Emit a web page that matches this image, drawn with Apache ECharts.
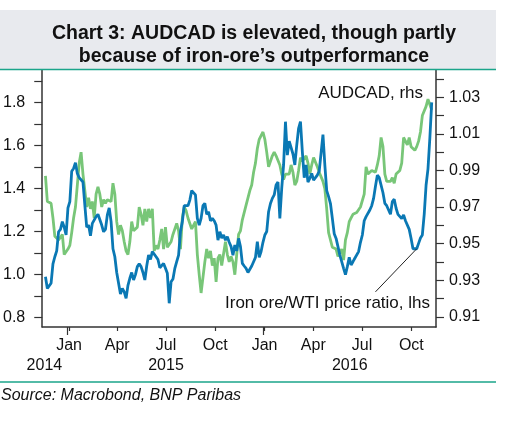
<!DOCTYPE html>
<html>
<head>
<meta charset="utf-8">
<script src="https://cdn.jsdelivr.net/npm/echarts@6/dist/echarts.min.js"></script>
<style>html,body{margin:0;padding:0;background:#fff;}#c{width:510px;height:421px;}</style>
</head>
<body>
<div id="c"></div>
<script>
// ---- data (twice-weekly observations, every 3.5 days starting 2014-11-18) ----
const startDate = '2014-11-18';
const stepDays = 3.5;
const ironOreWti = [
0.99,0.936,0.94,0.960,1.05,1.083,1.11,1.199,1.21,1.246,1.22,1.184,1.31,1.339,1.48,1.493,1.52,1.470,1.45,1.455,
1.43,1.323,1.22,1.230,1.18,1.238,1.23,1.269,1.28,1.285,1.23,1.199,1.21,1.277,1.31,1.246,1.12,1.083,1.01,0.960,
0.91,0.936,0.92,0.890,0.95,0.983,1.01,0.975,1.00,1.037,1.05,1.037,1.01,0.975,1.04,1.091,1.07,1.107,1.11,1.083,
1.07,1.032,1.04,1.052,1.03,1.006,0.867,0.967,0.98,1.029,1.06,1.091,1.20,1.246,1.32,1.323,1.32,1.346,1.39,1.393,
1.37,1.261,1.23,1.261,1.32,1.331,1.28,1.292,1.25,1.261,1.25,1.230,1.16,1.199,1.17,1.184,1.16,1.176,1.15,1.130,
1.09,1.137,1.11,1.168,1.13,1.052,1.04,1.029,1.01,1.014,1.04,1.060,1.08,1.153,1.08,1.107,1.15,1.184,1.20,1.292,
1.33,1.354,1.37,1.416,1.43,1.261,1.40,1.509,1.71,1.555,1.62,1.625,1.56,1.509,1.60,1.679,1.71,1.571,1.45,1.509,
1.43,1.447,1.47,1.439,1.45,1.462,1.48,1.478,1.65,1.509,1.39,1.362,1.33,1.261,1.19,1.168,1.13,1.091,1.06,1.029,
1.00,1.037,1.08,1.045,1.06,1.076,1.07,1.107,1.15,1.184,1.25,1.269,1.26,1.300,1.32,1.354,1.41,1.462,1.45,1.455,
1.38,1.331,1.32,1.300,1.28,1.339,1.35,1.308,1.28,1.277,1.26,1.277,1.25,1.246,1.21,1.168,1.12,1.114,1.12,1.145,
1.17,1.184,1.28,1.416,1.49,1.633,1.80];
const audcad = [
0.987,0.973,0.974,0.972,0.964,0.954,0.953,0.952,0.953,0.955,0.944,0.943,0.947,0.949,0.956,0.964,0.970,0.982,0.994,1.000,
0.988,0.989,0.970,0.975,0.969,0.973,0.964,0.977,0.981,0.977,0.970,0.974,0.972,0.974,0.975,0.973,0.983,0.977,0.962,0.955,
0.960,0.957,0.951,0.946,0.944,0.951,0.962,0.957,0.958,0.959,0.970,0.966,0.960,0.969,0.962,0.969,0.964,0.969,0.946,0.949,
0.947,0.952,0.958,0.947,0.959,0.948,0.949,0.951,0.955,0.955,0.961,0.957,0.947,0.964,0.970,0.968,0.964,0.965,0.958,0.957,
0.962,0.944,0.933,0.923,0.924,0.940,0.947,0.942,0.946,0.938,0.942,0.929,0.942,0.944,0.938,0.938,0.951,0.944,0.940,0.943,
0.940,0.933,0.944,0.955,0.957,0.963,0.962,0.971,0.975,0.979,0.982,0.989,0.994,1.002,1.007,1.008,1.011,1.007,1.000,0.992,
0.995,0.998,1.000,0.998,0.998,0.993,0.988,0.985,0.988,0.988,0.988,0.993,0.989,0.982,0.984,0.990,0.997,0.995,0.996,0.998,
0.994,0.988,0.993,0.997,0.996,0.992,0.989,0.990,0.984,0.980,0.969,0.956,0.952,0.948,0.947,0.947,0.943,0.945,0.947,0.941,
0.952,0.956,0.962,0.964,0.966,0.967,0.967,0.968,0.970,0.971,0.977,0.992,0.988,0.988,0.990,0.990,0.989,0.993,0.998,1.008,
1.003,0.988,0.984,0.983,0.984,0.986,0.983,0.988,0.987,0.990,0.994,1.008,1.006,1.004,1.008,1.003,1.003,1.001,1.003,1.006,
1.011,1.020,1.019,1.025,1.029,1.026,1.023];
const monthTickDates = ['2015-01-01','2015-04-01','2015-07-01','2015-10-01','2016-01-01','2016-04-01','2016-07-01','2016-10-01'];
const monthTickLabels = ['Jan','Apr','Jul\n2015','Oct','Jan','Apr','Jul','Oct'];
const yearTickDates = ['2015-01-01','2016-01-01'];
const yearLabelDates = ['2014-11-16','2016-06-08'];
const yearLabels = ['\n2014','\n2016'];
const leftLabels = [0.8,1.0,1.2,1.4,1.6,1.8];
const leftTicks = [0.8,0.9,1.0,1.1,1.2,1.3,1.4,1.5,1.6,1.7,1.8,1.9];
const rightLabels = [0.91,0.93,0.95,0.97,0.99,1.01,1.03];
const rightTicks = [0.91,0.92,0.93,0.94,0.95,0.96,0.97,0.98,0.99,1.00,1.01,1.02,1.03,1.04];
const axisRange = {xmin:'2014-11-12', xmax:'2016-11-16', lmin:0.7568, lmax:1.95, rmin:0.9044, rmax:1.0449};
const pointer = {from:['2016-07-26',0.92], to:['2016-10-11',1.12]};

const T = s => { const p = s.split('-').map(Number); return Date.UTC(p[0], p[1]-1, p[2]); };
const DAY = 86400000;
const dates = ironOreWti.map((_, i) => T(startDate) + i*stepDays*DAY);
const blueData = ironOreWti.map((v, i) => [dates[i], v]);
const greenData = audcad.map((v, i) => [dates[i], v]);

const labelMap = {};
monthTickDates.forEach((d, i) => labelMap[T(d)] = monthTickLabels[i]);
yearLabelDates.forEach((d, i) => labelMap[T(d)] = yearLabels[i]);

const FONT = "'Liberation Sans', Arial, sans-serif";
const AX = '#333';
const chart = echarts.init(document.getElementById('c'), null, {renderer:'canvas'});
const gridRect = {left:40, right:74, top:70, bottom:94};

chart.setOption({
  animation:false,
  backgroundColor:'#fff',
  title:{
    text:'Chart 3: AUDCAD is elevated, though partly\nbecause of iron-ore\u2019s outperformance',
    left:249, top:17, textAlign:'center',
    textStyle:{fontFamily:FONT, fontSize:19.5, fontWeight:'bold', lineHeight:23, color:'#111'}
  },
  grid:[Object.assign({}, gridRect), Object.assign({}, gridRect)],
  xAxis:[{
    type:'value', gridIndex:0, min:T(axisRange.xmin), max:T(axisRange.xmax),
    axisLine:{lineStyle:{color:AX, width:1.5}},
    axisTick:{show:true, length:4, customValues:monthTickDates.map(T), lineStyle:{color:AX, width:1.2}},
    axisLabel:{customValues:monthTickDates.map(T).concat(yearLabelDates.map(T)),
      formatter:v => labelMap[v] || '', fontFamily:FONT, fontSize:16, lineHeight:20, margin:9, color:'#111'},
    splitLine:{show:false}
  },{
    type:'value', gridIndex:1, min:T(axisRange.xmin), max:T(axisRange.xmax),
    axisLine:{show:false},
    axisTick:{show:true, length:8, customValues:yearTickDates.map(T), lineStyle:{color:AX, width:1.2}},
    axisLabel:{show:false}, splitLine:{show:false}
  }],
  yAxis:[{
    type:'value', gridIndex:0, position:'left', min:axisRange.lmin, max:axisRange.lmax,
    axisLine:{show:true, lineStyle:{color:AX, width:1.5}},
    axisTick:{show:true, length:8, customValues:leftTicks, lineStyle:{color:AX, width:1.2}},
    axisLabel:{customValues:leftLabels, formatter:v => v.toFixed(1), fontFamily:FONT, fontSize:16, margin:17, color:'#111'},
    splitLine:{show:false}
  },{
    type:'value', gridIndex:0, position:'right', min:axisRange.rmin, max:axisRange.rmax,
    axisLine:{show:true, lineStyle:{color:AX, width:1.5}},
    axisTick:{show:true, length:8, customValues:rightTicks, lineStyle:{color:AX, width:1.2}},
    axisLabel:{customValues:rightLabels, formatter:v => v.toFixed(2), fontFamily:FONT, fontSize:16, margin:13, color:'#111'},
    splitLine:{show:false}
  },{
    type:'value', gridIndex:1, show:false, min:0, max:1
  }],
  series:[{
    name:'AUDCAD, rhs', type:'line', xAxisIndex:0, yAxisIndex:1, data:greenData,
    symbol:'none', lineStyle:{color:'#78c678', width:2.8}, z:2
  },{
    name:'Iron ore/WTI price ratio, lhs', type:'line', xAxisIndex:0, yAxisIndex:0, data:blueData,
    symbol:'none', lineStyle:{color:'#0a78b4', width:2.8}, z:3,
    markLine:{silent:true, symbol:'none', animation:false, label:{show:false},
      lineStyle:{color:'#222', width:1, type:'solid'},
      data:[[{coord:[T(pointer.from[0]), pointer.from[1]]},{coord:[T(pointer.to[0]), pointer.to[1]]}]]}
  }],
  graphic:[
    {type:'rect', z:-10, shape:{x:0, y:10, width:496, height:59}, style:{fill:'#e8eaee'}},
    {type:'line', z:5, shape:{x1:0, y1:69.5, x2:496, y2:69.5}, style:{stroke:'#1aa58a', lineWidth:1.5}},
    {type:'line', z:5, shape:{x1:0, y1:382, x2:496, y2:382}, style:{stroke:'#1aa58a', lineWidth:1.5}},
    {type:'text', x:423, y:93, style:{text:'AUDCAD, rhs', font:"17px 'Liberation Sans', Arial", fill:'#111', textAlign:'right', textVerticalAlign:'middle'}},
    {type:'text', x:225, y:303, style:{text:'Iron ore/WTI price ratio, lhs', font:"17px 'Liberation Sans', Arial", fill:'#111', textAlign:'left', textVerticalAlign:'middle'}},
    {type:'text', x:1, y:396, style:{text:'Source: Macrobond, BNP Paribas', font:"italic 16px 'Liberation Sans', Arial", fill:'#111', textAlign:'left', textVerticalAlign:'middle'}}
  ]
});
</script>
</body>
</html>
